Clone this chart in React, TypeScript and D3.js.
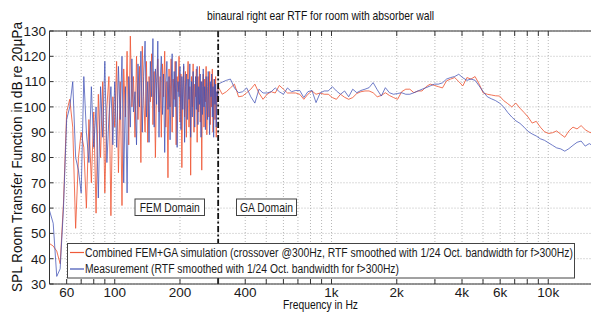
import React from 'react';
import * as d3 from 'd3';

const W = 591;
const H = 316;
const plot = { left: 49.5, right: 592.5, top: 31, bottom: 284 };

// FEM region, sampled every 2 Hz from 50 Hz up to 298 Hz
const femStart = 50;
const femStep = 2;
const femRed = [
  46, 45, 43, 38, 62, 98, 103, 92, 52, 80,
  90, 84, 60, 95, 70, 98, 58, 105, 80, 110,
  66, 100, 112, 57, 104,
  92, 118, 74, 110, 61, 115, 96, 122, 85, 128,
  100, 112, 88, 120, 95, 116, 78, 124, 104, 90,
  118, 86, 112, 102, 121, 93, 114, 80, 110, 119,
  98, 112, 88, 117, 104, 122, 92, 110, 72, 115,
  100, 119, 90, 111, 103, 118, 85, 112, 106, 120,
  94, 113, 76, 108, 116, 96, 114, 88, 110, 118,
  92, 108, 73, 112, 100, 117, 90, 109, 104, 115,
  86, 112, 98, 116, 94, 110, 75, 108, 113, 92,
  111, 102, 116, 89, 108, 112, 96, 114, 93, 109,
  100, 115, 90, 107, 111, 95, 112, 88, 106, 102,
];
const femBlue = [
  59, 54, 33, 36, 60, 95, 100, 110, 80, 75,
  66, 112, 90, 78, 108, 84, 100, 64, 108, 88,
  118, 78, 96, 108, 85,
  110, 84, 116, 95, 120, 70, 108, 66, 112, 92,
  119, 98, 106, 85, 117, 100, 122, 90, 112, 126,
  96, 110, 86, 118, 104, 127, 92, 115, 101, 126,
  88, 110, 120, 97, 113, 82, 109, 118, 99, 112,
  87, 108, 121, 96, 114, 100, 118, 84, 110, 104,
  116, 91, 112, 99, 117, 86, 108, 113, 95, 111,
  103, 117, 88, 110, 96, 114, 104, 92, 112, 99,
  116, 93, 108, 101, 113, 88, 110, 97, 115, 100,
  108, 91, 112, 103, 95, 114, 100, 89, 110, 104,
  113, 96, 108, 88, 111, 101, 109, 92, 106, 104,
];

// GA region, 1/16 octave steps starting at 300 Hz
const gaStart = 300;
const gaPerOctave = 16;
const gaRed = [
  108, 105, 106, 107.5, 109, 104, 104.3, 105.6, 107, 109,
  105.5, 103, 105, 106, 105.5, 108.5, 107, 105.5, 105.5, 105.5,
  105, 103, 105, 106.3, 105, 105.5, 105, 105, 103.7, 103,
  105, 103.8, 103, 103.7, 105.3, 106, 106.3, 106.3, 105.6, 104,
  104.5, 105.6, 104.5, 103.7, 103, 106, 107, 107, 105.6, 106.3,
  106.3, 108, 109, 108.5, 108, 107.5, 110.3, 111, 111.6, 110,
  108.3, 111.6, 111, 112, 109, 105.5, 105, 104.7, 104.4, 104.3,
  102.5, 101.3, 100, 101.5, 99.5, 97.8, 96, 93.6, 94.3, 92,
  90.2, 89.5, 89.8, 90.5, 89.2, 88, 90.5, 92, 91.3, 92.6,
  91, 90, 89.5,
];
const gaBlue = [
  109, 109.8, 110.5, 111, 107.5, 105.6, 106, 107.5, 104, 101.5,
  107, 105.5, 105.5, 106, 107.5, 106, 105, 107.5, 106, 106.5,
  106.5, 103.7, 106, 106.5, 101.7, 105.5, 106.3, 106.3, 108, 106.3,
  105, 106.3, 104, 107, 105.6, 106.5, 107, 107.6, 109.6, 106.8,
  104.3, 107.6, 105.6, 105, 105.3, 105.6, 105, 105, 105.6, 106.3,
  107, 107.6, 108.3, 109, 109, 109.5, 111, 111.6, 112, 112.9,
  111.5, 110.5, 111, 110.5, 108.3, 106, 104, 103.2, 102.5, 101.5,
  100, 97.8, 96, 94.5, 93.5, 92, 90.3, 89.3, 88.5, 87.4,
  86.8, 85.8, 84.8, 83.8, 83.4, 82.5, 83.5, 84.8, 86, 86.5,
  84.5, 85.5, 84.5,
];

const xTickValues = [60, 100, 200, 400, 1000, 2000, 4000, 6000, 10000];
const xTickLabels = ['60', '100', '200', '400', '1k', '2k', '4k', '6k', '10k'];
const yTickValues = [30, 40, 50, 60, 70, 80, 90, 100, 110, 120, 130];
const crossoverHz = 300;

const title = 'binaural right ear RTF for room with absorber wall';
const xLabel = 'Frequency in Hz';
const yLabel = 'SPL Room Transfer Function in dB re 20\u00b5Pa';
const legendRed = 'Combined FEM+GA simulation (crossover @300Hz, RTF smoothed with 1/24 Oct. bandwidth for f>300Hz)';
const legendBlue = 'Measurement (RTF smoothed with 1/24 Oct. bandwidth for f>300Hz)';

const RED = '#ef5a3a';
const BLUE = '#4052b5';
const FONT = '"Liberation Sans Narrow", "Arial Narrow", "Liberation Sans", Arial, sans-serif';

const App = () => {
  const x = d3.scaleLog().domain([50, 16000]).range([plot.left, plot.right]);
  const y = d3.scaleLinear().domain([30, 130]).range([plot.bottom, plot.top]);

  const femFreqs = femRed.map((_, i) => femStart + i * femStep);
  const gaFreqs = gaRed.map((_, i) => gaStart * Math.pow(2, i / gaPerOctave));

  const redPts = femFreqs.map((f, i) => [f, femRed[i]]).concat(gaFreqs.map((f, i) => [f, gaRed[i]]));
  const bluePts = femFreqs.map((f, i) => [f, femBlue[i]]).concat(gaFreqs.map((f, i) => [f, gaBlue[i]]));

  const line = d3
    .line<number[]>()
    .x((d) => x(d[0]))
    .y((d) => y(d[1]));

  // minor log grid 50, 60 .. 90, 100, 200 .. 16000
  const gridFreqs: number[] = [];
  [10, 100, 1000, 10000].forEach((dec) => {
    for (let m = 1; m <= 9; m++) {
      const f = dec * m;
      if (f >= 50 && f <= 16000) gridFreqs.push(f);
    }
  });

  const xc = x(crossoverHz);

  return (
    <svg width={W} height={H} style={{ position: 'absolute', left: 0, top: 0, background: '#fff' }} fontFamily={FONT}>
      <defs>
        <clipPath id="plotclip">
          <rect x={plot.left} y={plot.top} width={plot.right - plot.left} height={plot.bottom - plot.top} />
        </clipPath>
      </defs>

      {/* grid */}
      <g stroke="#b8b8b8" strokeWidth={1} strokeDasharray="1 2">
        {gridFreqs.map((f) => (
          <line key={'gx' + f} x1={x(f)} x2={x(f)} y1={plot.top} y2={plot.bottom} />
        ))}
        {yTickValues.map((v) => (
          <line key={'gy' + v} x1={plot.left} x2={W} y1={y(v)} y2={y(v)} />
        ))}
      </g>

      {/* data */}
      <g clipPath="url(#plotclip)" fill="none" strokeWidth={1} strokeLinejoin="round">
        <path d={line(redPts) || ''} stroke={RED} strokeOpacity={0.85} />
        <path d={line(bluePts) || ''} stroke={BLUE} strokeOpacity={0.75} />
      </g>

      {/* crossover line */}
      <line x1={xc} x2={xc} y1={plot.top} y2={plot.bottom} stroke="#111" strokeWidth={1.8} strokeDasharray="6 2.5 2 2.5" />

      {/* axes frame and ticks */}
      <g stroke="#333" strokeWidth={1}>
        <line x1={plot.left} x2={plot.left} y1={plot.top} y2={plot.bottom} />
        <line x1={plot.left} x2={W} y1={plot.top} y2={plot.top} />
        <line x1={plot.left} x2={W} y1={plot.bottom} y2={plot.bottom} />
        {gridFreqs.map((f) => (
          <g key={'tx' + f}>
            <line x1={x(f)} x2={x(f)} y1={plot.bottom} y2={plot.bottom - 5} />
            <line x1={x(f)} x2={x(f)} y1={plot.top} y2={plot.top + 5} />
          </g>
        ))}
        {yTickValues.map((v) => (
          <line key={'ty' + v} x1={plot.left} x2={plot.left + 4} y1={y(v)} y2={y(v)} />
        ))}
      </g>

      {/* tick labels */}
      <g fontSize={13.5} fill="#1a1a1a">
        {xTickValues.map((f, i) => (
          <text key={'lx' + f} x={x(f)} y={296.5} textAnchor="middle">
            {xTickLabels[i]}
          </text>
        ))}
        {yTickValues.map((v) => (
          <text key={'ly' + v} x={46} y={y(v)} dy="0.36em" textAnchor="end">
            {v}
          </text>
        ))}
      </g>

      {/* domain boxes */}
      <g fontSize={13} fill="#1a1a1a">
        <rect x={135} y={199} width={69.5} height={16.5} fill="#fff" stroke="#444" />
        <text x={169.8} y={211.5} textAnchor="middle" textLength={60} lengthAdjust="spacingAndGlyphs">FEM Domain</text>
        <rect x={236.5} y={199} width={60} height={16.5} fill="#fff" stroke="#444" />
        <text x={266.5} y={211.5} textAnchor="middle" textLength={53} lengthAdjust="spacingAndGlyphs">GA Domain</text>
      </g>

      {/* legend */}
      <g fontSize={12.5} fill="#1a1a1a">
        <rect x={67.5} y={243.5} width={507} height={34.5} fill="#fff" stroke="#444" />
        <line x1={70} x2={84} y1={252.5} y2={252.5} stroke={RED} strokeWidth={1.2} />
        <line x1={70} x2={84} y1={269} y2={269} stroke={BLUE} strokeWidth={1.2} />
        <text x={85} y={256.8} textLength={488} lengthAdjust="spacingAndGlyphs">{legendRed}</text>
        <text x={85} y={273.3} textLength={314} lengthAdjust="spacingAndGlyphs">{legendBlue}</text>
      </g>

      {/* titles */}
      <text x={320.5} y={20} textAnchor="middle" fontSize={13} fill="#111" textLength={227} lengthAdjust="spacingAndGlyphs">
        {title}
      </text>
      <text x={320.5} y={309} textAnchor="middle" fontSize={12} fill="#111" textLength={75} lengthAdjust="spacingAndGlyphs">
        {xLabel}
      </text>
      <text
        transform={`translate(22,157) rotate(-90)`}
        textAnchor="middle"
        fontSize={14}
        fill="#111"
        textLength={270}
        lengthAdjust="spacingAndGlyphs"
      >
        {yLabel}
      </text>
    </svg>
  );
};

export default App;
